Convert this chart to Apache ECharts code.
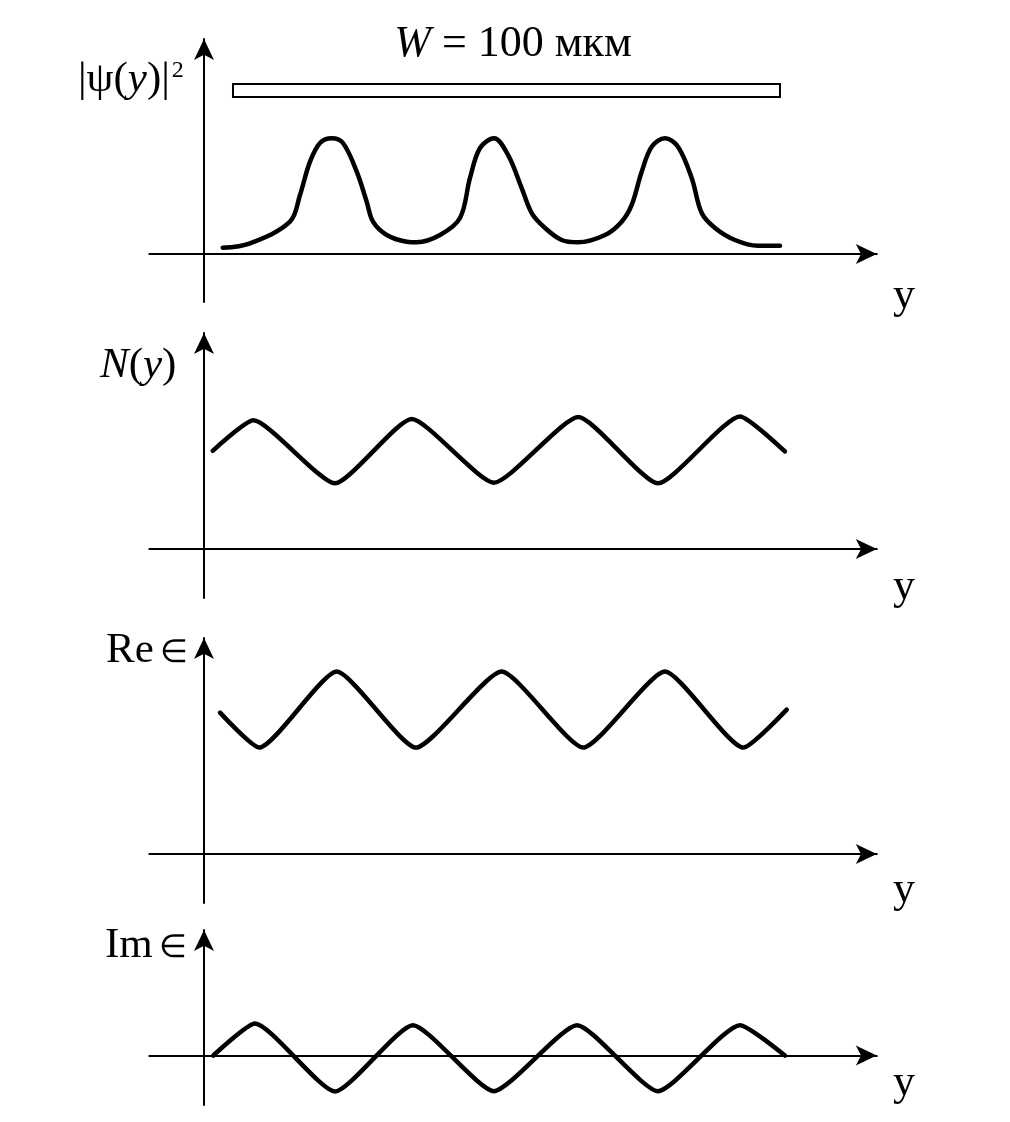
<!DOCTYPE html>
<html><head><meta charset="utf-8">
<script src="https://cdn.jsdelivr.net/npm/echarts@6/dist/echarts.min.js"></script>
<style>html,body{margin:0;padding:0;background:#fff}#c{width:1010px;height:1122px}</style>
</head><body><div id="c"></div>
<script>
// x in мкм, y in arbitrary units
const psiX = [3.42, 8.41, 15.72, 17.55, 19.38, 21.21, 23.35, 25.41, 27.92, 29.74, 30.90, 33.40, 37.06, 38.88, 43.14, 46.80, 48.63, 50.46, 53.02, 55.58, 58.08, 59.91, 62.34, 65.39, 68.37, 73.31, 76.36, 78.19, 80.02, 81.85, 84.28, 86.65, 89.16, 90.99, 93.42, 97.07, 101.28, 105.30];
const psiY = [0.054, 0.092, 0.279, 0.510, 0.798, 0.959, 1.000, 0.959, 0.711, 0.452, 0.279, 0.164, 0.106, 0.101, 0.164, 0.311, 0.657, 0.916, 1.000, 0.856, 0.570, 0.354, 0.225, 0.121, 0.101, 0.164, 0.279, 0.424, 0.711, 0.927, 1.000, 0.927, 0.657, 0.354, 0.225, 0.121, 0.072, 0.072];
const stripX = [5.3, 105.3];
const stripY = [1.357, 1.469];
const nX = [1.59, 9.01, 23.95, 37.97, 53.02, 68.43, 83.0, 97.99, 106.2];
const nY = [1.51, 1.98, 1.01, 2.00, 1.02, 2.03, 1.01, 2.04, 1.50];
const reX = [2.93, 10.11, 24.26, 38.76, 54.42, 69.34, 84.28, 98.59, 106.53];
const reY = [1.86, 1.40, 2.40, 1.40, 2.40, 1.40, 2.40, 1.40, 1.90];
const imX = [1.70, 9.32, 23.95, 38.2, 53.0, 68.2, 83.0, 98.0, 106.2];
const imY = [0.0, 0.97, -1.09, 0.92, -1.08, 0.92, -1.08, 0.92, 0.0];
const panelLabels = ['{n||ψ(}{i|y}{n|)|}{s|2}', '{i|N}{n|(}{i|y}{n|)}', '{n|Re}{e|∈}', '{n|Im}{e|∈}'];
const axisName = 'y';
const widthLabel = '{w|W}{m| = 100 мкм}';

const zip = (a, b) => a.map((v, i) => [v, b[i]]);
const serif = '"Liberation Serif", "Times New Roman", serif';
const rich = {
  n: {fontFamily: serif, fontSize: 43, color: '#000'},
  i: {fontFamily: serif, fontSize: 43, fontStyle: 'italic', color: '#000'},
  e: {fontFamily: serif, fontSize: 32, color: '#000', padding: [6, 0, 0, 6]},
  s: {fontFamily: serif, fontSize: 24, color: '#000', verticalAlign: 'top', padding: [0, 0, 18, 2]},
  w: {fontFamily: serif, fontSize: 44, fontStyle: 'italic', color: '#000'},
  m: {fontFamily: serif, fontSize: 44, color: '#000'}
};
const panels = [
  {top: 39, height: 263, min: -0.415, max: 1.858},
  {top: 333, height: 265, min: -0.754, max: 3.323},
  {top: 638, height: 265, min: -0.645, max: 2.842},
  {top: 930, height: 175, min: -1.5, max: 3.803}
];
const axLine = () => ({onZero: true, symbol: ['none', 'arrow'], symbolSize: [15, 21], lineStyle: {color: '#000', width: 2}});
const grid = panels.map(p => ({left: 149.3, right: 133.2, top: p.top, height: p.height}));
const xAxis = panels.map((p, i) => ({gridIndex: i, type: 'value', min: -10, max: 123, axisLine: axLine(), axisTick: {show: false}, axisLabel: {show: false}, splitLine: {show: false}}));
const yAxis = panels.map((p, i) => ({gridIndex: i, type: 'value', min: p.min, max: p.max, axisLine: axLine(), axisTick: {show: false}, axisLabel: {show: false}, splitLine: {show: false}}));
const ls = {color: '#000', width: 4.5, cap: 'round', join: 'round'};
const series = [
  {type: 'line', xAxisIndex: 0, yAxisIndex: 0, data: zip(psiX, psiY), smooth: 0.35, showSymbol: false, lineStyle: ls,
   markArea: {silent: true, itemStyle: {color: '#fff', borderColor: '#000', borderWidth: 2}, data: [[{coord: [stripX[0], stripY[0]]}, {coord: [stripX[1], stripY[1]]}]]}},
  {type: 'line', xAxisIndex: 1, yAxisIndex: 1, data: zip(nX, nY), smooth: 0.18, showSymbol: false, lineStyle: ls},
  {type: 'line', xAxisIndex: 2, yAxisIndex: 2, data: zip(reX, reY), smooth: 0.18, showSymbol: false, lineStyle: ls},
  {type: 'line', xAxisIndex: 3, yAxisIndex: 3, data: zip(imX, imY), smooth: 0.18, showSymbol: false, lineStyle: ls}
];
const labelPos = [[78, 80], [100, 366], [106, 651], [105, 946]];
const yNamePos = [296, 587, 890, 1083];
const graphic = [
  {type: 'text', x: 513, y: 44, style: {text: widthLabel, rich: rich, align: 'center', verticalAlign: 'middle'}}
];
panelLabels.forEach((t, i) => graphic.push({type: 'text', x: labelPos[i][0], y: labelPos[i][1], style: {text: t, rich: rich, align: 'left', verticalAlign: 'middle'}}));
yNamePos.forEach(y => graphic.push({type: 'text', x: 904, y: y, style: {text: axisName, font: '44px ' + serif, fill: '#000', align: 'center', verticalAlign: 'middle'}}));
const chart = echarts.init(document.getElementById('c'), null, {renderer: 'canvas'});
chart.setOption({animation: false, backgroundColor: '#fff', grid, xAxis, yAxis, series, graphic});
</script>
</body></html>
